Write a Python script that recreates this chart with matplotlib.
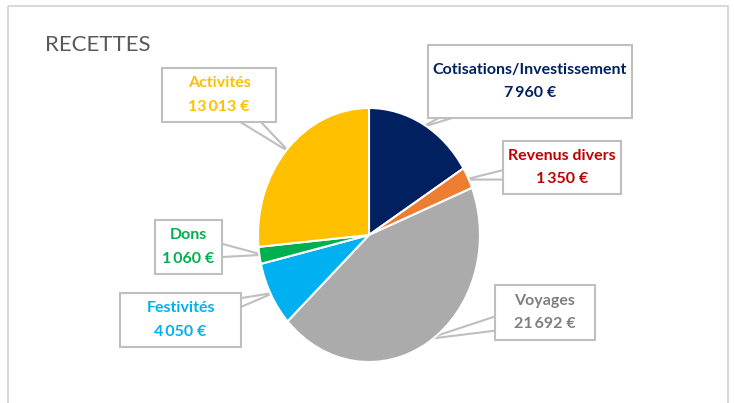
import numpy as np
import matplotlib
matplotlib.use('Agg')
import matplotlib.pyplot as plt
from matplotlib.patches import Rectangle, Polygon

# data
categories = ['Cotisations/Investissement', 'Revenus divers', 'Voyages',
              'Festivités', 'Dons', 'Activités']
values = [7960, 1350, 21692, 4050, 1060, 13013]
slice_colors = ['#002060', '#ED7D31', '#ABABAB', '#00B0F0', '#00B050', '#FFC000']
text_colors = ['#002060', '#C00000', '#7F7F7F', '#00B0F0', '#00B050', '#FFC000']

# label boxes in pixels (x0, y0, x1, y1), y from top
boxes = [(428, 45, 632, 118), (503, 141, 621, 194), (495, 285, 595, 340),
         (120, 293, 241, 347), (155, 220, 222, 274), (162, 68, 276, 122)]

W, H = 734, 403
plt.rcParams['font.family'] = ['Lato', 'DejaVu Sans']

fig = plt.figure(figsize=(W / 100, H / 100), dpi=100)
over = fig.add_axes([0, 0, 1, 1])
over.set_xlim(0, W)
over.set_ylim(H, 0)
over.axis('off')

# outer frame + title
over.add_patch(Rectangle((8, 6), 720, 420, fill=False, ec='#D9D9D9', lw=1.5, clip_on=False))
over.text(45, 51, 'RECETTES', fontsize=16, color='#595959', va='baseline', ha='left')

# pie (elliptical, like the reference)
cx, cy, rx, ry = 369, 235, 111, 127
pie_ax = fig.add_axes([(cx - rx) / W, (H - cy - ry) / H, 2 * rx / W, 2 * ry / H])
wedges, _ = pie_ax.pie(values, colors=slice_colors, startangle=90, counterclock=False,
                       wedgeprops=dict(edgecolor='white', linewidth=1.5))
pie_ax.set_aspect('auto')
pie_ax.set_xlim(-1, 1)
pie_ax.set_ylim(-1, 1)
pie_ax.axis('off')

fig.canvas.draw()
to_over = over.transData.inverted()

for i, w in enumerate(wedges):
    th = np.deg2rad((w.theta1 + w.theta2) / 2)
    tip = to_over.transform(pie_ax.transData.transform((0.97 * np.cos(th), 0.97 * np.sin(th))))
    x0, y0, x1, y1 = boxes[i]
    bx, by = (x0 + x1) / 2, (y0 + y1) / 2
    d = np.array([tip[0] - bx, tip[1] - by])
    n = np.array([-d[1], d[0]]) / np.hypot(*d)
    base = np.array([bx, by])
    over.add_patch(Polygon([base + 12 * n, tip, base - 12 * n], closed=True, fc='white',
                           ec='#BFBFBF', lw=1.5, zorder=5, clip_on=False))
    over.add_patch(Rectangle((x0, y0), x1 - x0, y1 - y0, fc='white', ec='#BFBFBF',
                             lw=1.5, zorder=6, clip_on=False))
    label = '{}\n{} €'.format(categories[i], f'{values[i]:,}'.replace(',', '\u2009'))
    over.text(bx, by, label, ha='center', va='center', fontsize=11.5, fontweight='bold',
              color=text_colors[i], linespacing=1.85, zorder=7)

fig.savefig('out.png', dpi=100)
